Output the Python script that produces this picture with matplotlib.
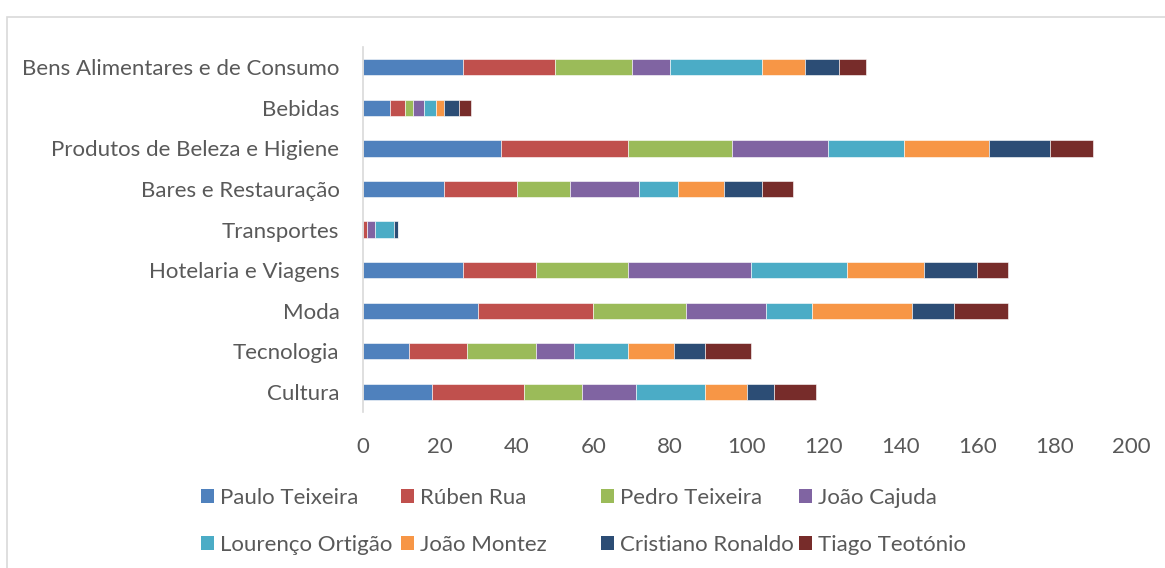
import numpy as np
import matplotlib.pyplot as plt
from matplotlib.patches import Rectangle, Patch

categories = ["Bens Alimentares e de Consumo", "Bebidas", "Produtos de Beleza e Higiene",
              "Bares e Restauração", "Transportes", "Hotelaria e Viagens", "Moda",
              "Tecnologia", "Cultura"]

paulo_teixeira = [26, 7, 36, 21, 0, 26, 30, 12, 18]
ruben_rua = [24, 4, 33, 19, 1, 19, 30, 15, 24]
pedro_teixeira = [20, 2, 27, 14, 0, 24, 24, 18, 15]
joao_cajuda = [10, 3, 25, 18, 2, 32, 21, 10, 14]
lourenco_ortigao = [24, 3, 20, 10, 5, 25, 12, 14, 18]
joao_montez = [11, 2, 22, 12, 0, 20, 26, 12, 11]
cristiano_ronaldo = [9, 4, 16, 10, 1, 14, 11, 8, 7]
tiago_teotonio = [7, 3, 11, 8, 0, 8, 14, 12, 11]

series_names = ["Paulo Teixeira", "Rúben Rua", "Pedro Teixeira", "João Cajuda",
                "Lourenço Ortigão", "João Montez", "Cristiano Ronaldo", "Tiago Teotónio"]
series_values = [paulo_teixeira, ruben_rua, pedro_teixeira, joao_cajuda,
                 lourenco_ortigao, joao_montez, cristiano_ronaldo, tiago_teotonio]
colors = ["#4F81BD", "#C0504D", "#9BBB59", "#8064A2",
          "#4BACC6", "#F79646", "#2C4D75", "#772C2A"]

FONT = "Lato"
TEXT = "#595959"
FS = 16

W, H = 1165, 568
fig = plt.figure(figsize=(W / 100, H / 100), dpi=100)

# chart area border
fig.patches.append(Rectangle((7 / W, 0 - 0.02), 1.05, 1 - 17 / H + 0.02,
                             transform=fig.transFigure, fill=False,
                             edgecolor="#d9d9d9", linewidth=1.2))

ax = fig.add_axes([363 / W, 1 - 412 / H, (1131 - 363) / W, (412 - 47) / H])

y = np.arange(len(categories))
left = np.zeros(len(categories))
for name, vals, c in zip(series_names, series_values, colors):
    vals = np.array(vals, dtype=float)
    ax.barh(y, vals, left=left, height=0.4, color=c, edgecolor="white",
            linewidth=0.4, label=name)
    left += vals

ax.set_ylim(len(categories) - 0.5, -0.5)
ax.set_xlim(0, 200)
ax.set_xticks(range(0, 201, 20))
ax.set_yticks(y)
ax.set_yticklabels(categories)

for s in ["top", "right", "bottom"]:
    ax.spines[s].set_visible(False)
ax.spines["left"].set_color("#d9d9d9")
ax.spines["left"].set_linewidth(1.2)
ax.tick_params(axis="both", length=0, labelcolor=TEXT, labelsize=FS)
ax.tick_params(axis="x", pad=18)
ax.tick_params(axis="y", pad=17)
for lab in ax.get_xticklabels() + ax.get_yticklabels():
    lab.set_family(FONT)

# legend: four equal-width columns, two rows
col_x = [201, 401, 601, 799]
for i, x in enumerate(col_x):
    handles = [Patch(facecolor=colors[i], edgecolor="none"),
               Patch(facecolor=colors[i + 4], edgecolor="none")]
    labels = [series_names[i], series_names[i + 4]]
    leg = fig.legend(handles, labels, loc="upper left",
                     bbox_to_anchor=(x / W, 1 - 488 / H), frameon=False,
                     prop={"family": FONT, "size": FS}, handlelength=0.6,
                     handleheight=0.6, handletextpad=0.27, labelspacing=1.2,
                     borderpad=0, borderaxespad=0)
    for t in leg.get_texts():
        t.set_color(TEXT)

fig.savefig("out.png", dpi=100)
